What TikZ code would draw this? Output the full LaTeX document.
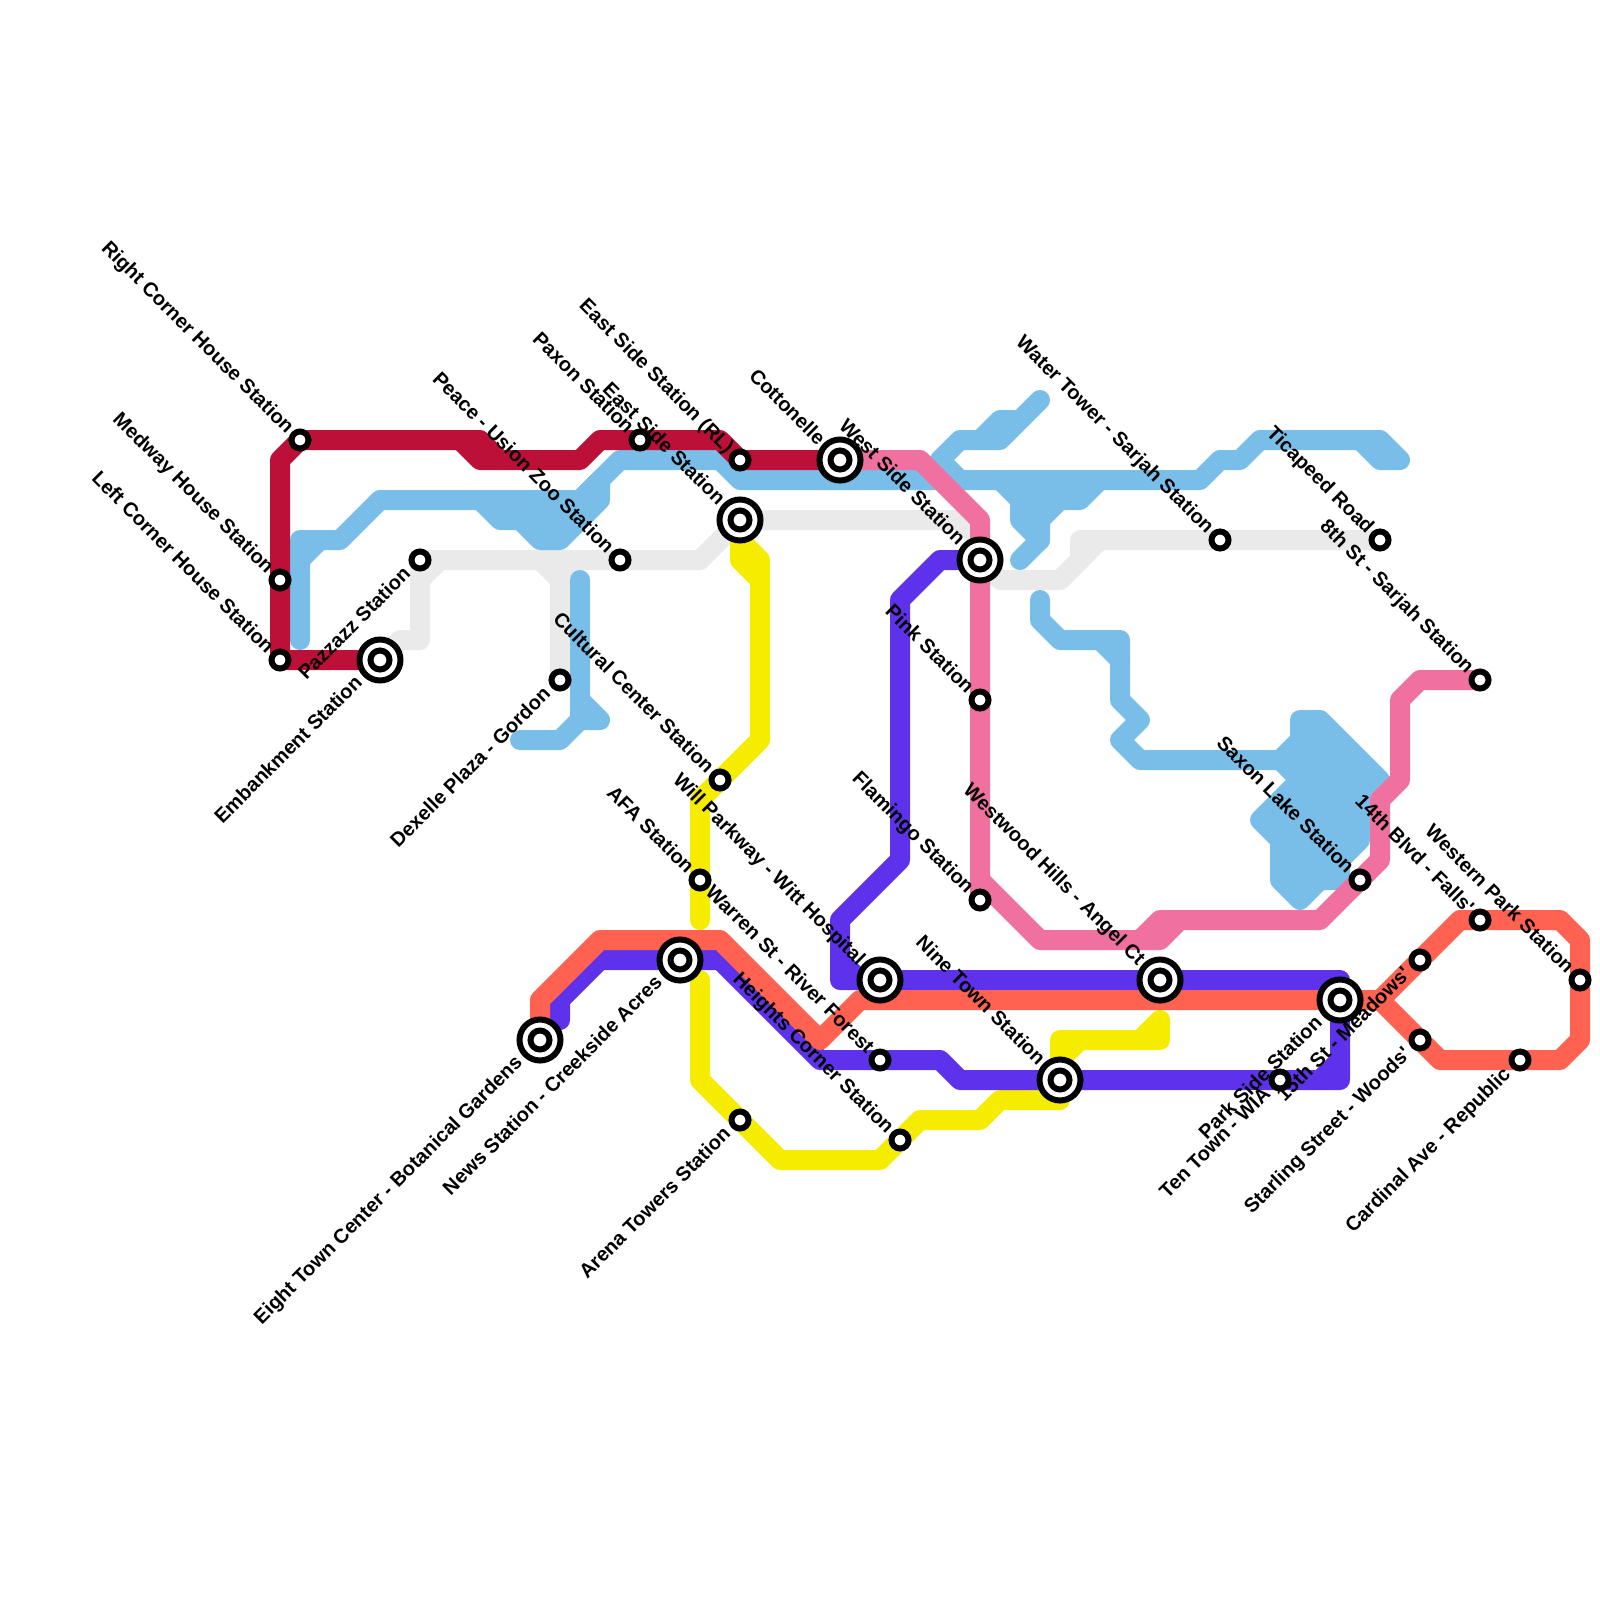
\documentclass[tikz,border=0pt]{standalone}
\usepackage{fontspec}
\newfontfamily\labfont[BoldFont={Liberation Sans Bold}]{Liberation Sans}
\definecolor{cred}{HTML}{BD1038}
\definecolor{cblue}{HTML}{79BDE9}
\definecolor{cgray}{HTML}{EAEAEA}
\definecolor{cpink}{HTML}{F0719F}
\definecolor{cpurple}{HTML}{5E31EA}
\definecolor{ccoral}{HTML}{FF6250}
\definecolor{cyellow}{HTML}{F6EC00}
\tikzset{
 ln/.style={line width=20pt,line cap=round,line join=round},
 stn/.style={circle,draw=black,fill=white,line width=6pt,minimum size=17pt,inner sep=0pt,outer sep=0pt},
 stnouter/.style={circle,draw=black,fill=white,line width=6pt,minimum size=41pt,inner sep=0pt,outer sep=0pt},
 stninner/.style={circle,draw=black,fill=white,line width=6pt,minimum size=19pt,inner sep=0pt,outer sep=0pt},
 lab/.style={inner sep=0pt,outer sep=0pt,text=black,font=\labfont\bfseries\fontsize{20}{24}\selectfont},
 ul/.style={lab,xshift=-14pt,yshift=5.4pt,rotate=-45,anchor=base east},
 dl/.style={lab,xshift=-8.4pt,yshift=-15.3pt,rotate=45,anchor=base east},
 ulb/.style={lab,xshift=-22.8pt,yshift=13.8pt,rotate=-45,anchor=base east},
 dlb/.style={lab,xshift=-16.8pt,yshift=-23.8pt,rotate=45,anchor=base east},
}
\newcommand{\smallstn}[1]{\node[stn] (#1-s) at (#1) {};}
\newcommand{\bigstn}[1]{\node[stnouter] (#1-o) at (#1) {};\node[stninner] (#1-i) at (#1) {};}
\begin{document}
\begin{tikzpicture}[x=1pt,y=-1pt]
\useasboundingbox (0,0) rectangle (1600,1600);
% station positions
\coordinate (lch) at (280,660);
\coordinate (mh) at (280,580);
\coordinate (rch) at (300,440);
\coordinate (emb) at (380,660);
\coordinate (paz) at (420,560);
\coordinate (pea) at (620,560);
\coordinate (pax) at (640,440);
\coordinate (esrl) at (740,460);
\coordinate (es) at (740,520);
\coordinate (cot) at (840,460);
\coordinate (wsd) at (980,560);
\coordinate (wat) at (1220,540);
\coordinate (tic) at (1380,540);
\coordinate (eig) at (1480,680);
\coordinate (dex) at (560,680);
\coordinate (cul) at (720,780);
\coordinate (afa) at (700,880);
\coordinate (pnk) at (980,700);
\coordinate (fla) at (980,900);
\coordinate (wil) at (880,980);
\coordinate (wes) at (1160,980);
\coordinate (sax) at (1360,880);
\coordinate (fal) at (1480,920);
\coordinate (mea) at (1420,960);
\coordinate (wpk) at (1580,980);
\coordinate (psd) at (1340,1000);
\coordinate (sta) at (1420,1040);
\coordinate (car) at (1520,1060);
\coordinate (ten) at (1280,1080);
\coordinate (nin) at (1060,1080);
\coordinate (war) at (880,1060);
\coordinate (hei) at (900,1140);
\coordinate (are) at (740,1120);
\coordinate (nws) at (680,960);
\coordinate (etc) at (540,1040);
% gray
\draw[ln,cgray] (emb) -- (400,640) -- (420,640) -- (paz) -- (pea) -- (700,560) -- (es) -- (960,520) -- (980,540);
\draw[ln,cgray] (420,580) -- (440,560);
\draw[ln,cgray] (540,560) -- (560,580) -- (580,560);
\draw[ln,cgray] (560,580) -- (dex);
\draw[ln,cgray] (wsd) -- (1000,580) -- (1060,580) -- (1100,540);
\draw[ln,cgray] (1060,580) -- (1080,560) -- (1080,540) -- (wat) -- (tic);
% blue
\draw[ln,cblue] (300,640) -- (300,540) -- (340,540) -- (380,500) -- (580,500) -- (620,460) -- (720,460) -- (740,480) -- (1200,480) -- (1220,460) -- (1240,460) -- (1260,440) -- (1380,440) -- (1400,460) -- (1380,460) -- (1360,440);
\draw[ln,cblue] (300,560) -- (320,540);
\draw[ln,cblue,fill=cblue] (480,500) -- (580,500) -- (600,480) -- (600,500) -- (560,540) -- (540,540) -- (520,520) -- (500,520) -- cycle;
\draw[ln,cblue] (580,580) -- (580,700) -- (600,720) -- (580,720) -- (560,740) -- (520,740);
\draw[ln,cblue] (580,700) -- (580,720);
\draw[ln,cblue] (940,460) -- (960,440) -- (1000,440) -- (1040,400) -- (1020,420) -- (1000,420) -- (980,440);
\draw[ln,cblue] (940,460) -- (960,480);
\draw[ln,cblue,fill=cblue] (1000,480) -- (1020,500) -- (1020,520) -- (1040,540) -- (1040,520) -- (1060,500) -- (1080,500) -- (1100,480) -- cycle;
\draw[ln,cblue] (1040,540) -- (1020,560);
\draw[ln,cblue] (1040,600) -- (1040,620) -- (1060,640) -- (1120,640) -- (1120,700) -- (1140,720) -- (1120,740) -- (1140,760) -- (1280,760);
\draw[ln,cblue] (1100,640) -- (1120,660);
\draw[ln,cblue,fill=cblue] (1280,760) -- (1300,740) -- (1300,720) -- (1320,720) -- (1380,780) -- (1360,800) -- (1360,840) -- (1340,860) -- (1340,880) -- (1320,880) -- (1300,900) -- (1280,880) -- (1280,840) -- (1260,820) -- (1300,780) -- cycle;
% yellow
\draw[ln,cyellow] (es) -- (740,560) -- (760,580) -- (760,740) -- (cul) -- (700,800) -- (afa) -- (700,920);
\draw[ln,cyellow] (740,540) -- (760,560) -- (760,580);
\draw[ln,cyellow] (700,980) -- (700,1080) -- (are) -- (780,1160) -- (880,1160) -- (hei) -- (920,1120) -- (980,1120) -- (1000,1100) -- (1060,1100) -- (1060,1040) -- (1140,1040) -- (1160,1020) -- (1160,1040) -- (1140,1040);
\draw[ln,cyellow] (1060,1060) -- (1080,1040);
% pink
\draw[ln,cpink] (cot) -- (920,460) -- (980,520) -- (wsd) -- (pnk) -- (fla) -- (980,880) -- (1040,940) -- (1160,940) -- (1180,920) -- (1320,920) -- (sax) -- (1380,860) -- (1380,800) -- (1400,780) -- (1400,700) -- (1420,680) -- (eig);
\draw[ln,cpink] (1140,940) -- (1160,920) -- (1180,920);
% red
\draw[ln,cred] (emb) -- (lch) -- (mh) -- (280,460) -- (rch) -- (480,440) -- (500,460) -- (580,460) -- (600,440) -- (pax) -- (720,440) -- (esrl) -- (cot);
\draw[ln,cred] (460,440) -- (480,460) -- (500,460);
% purple
\draw[ln,cpurple] (560,1020) -- (560,1000) -- (600,960) -- (nws) -- (720,960) -- (820,1060) -- (war) -- (940,1060) -- (960,1080) -- (nin) -- (ten) -- (1320,1080) -- (1340,1060);
\draw[ln,cpurple] (1320,1080) -- (1340,1080) -- (psd) -- (1340,980) -- (wes) -- (wil) -- (840,980) -- (840,920) -- (900,860) -- (900,600) -- (940,560) -- (wsd);
\draw[ln,cpurple] (840,960) -- (860,980);
% coral
\draw[ln,ccoral] (etc) -- (540,1000) -- (600,940) -- (720,940) -- (820,1040) -- (860,1000) -- (psd) -- (1380,1000) -- (mea) -- (1460,920) -- (fal) -- (1560,920) -- (1580,940) -- (wpk) -- (1580,1040) -- (1560,1060) -- (car) -- (1440,1060) -- (sta) -- (1380,1000);
% stations
\smallstn{lch}\smallstn{mh}\smallstn{rch}\smallstn{paz}\smallstn{pea}\smallstn{pax}\smallstn{esrl}\smallstn{dex}\smallstn{cul}\smallstn{afa}\smallstn{pnk}\smallstn{fla}\smallstn{wat}\smallstn{tic}\smallstn{eig}\smallstn{sax}\smallstn{fal}\smallstn{mea}\smallstn{wpk}\smallstn{sta}\smallstn{car}\smallstn{ten}\smallstn{war}\smallstn{hei}\smallstn{are}
\bigstn{emb}\bigstn{es}\bigstn{cot}\bigstn{wsd}\bigstn{wil}\bigstn{wes}\bigstn{psd}\bigstn{nws}\bigstn{etc}\bigstn{nin}
% labels
\node[ul] (t1) at (rch) {Right Corner House Station};
\node[ul] (t2) at (mh) {Medway House Station};
\node[ul] (t3) at (lch) {Left Corner House Station};
\node[dl] (t4) at (paz) {Pazzazz Station};
\node[dlb] (t5) at (emb) {Embankment Station};
\node[ul] (t6) at (pea) {Peace - Usion Zoo Station};
\node[ul] (t7) at (pax) {Paxon Station};
\node[ul] (t8) at (esrl) {East Side Station (RL)};
\node[ulb] (t9) at (es) {East Side Station};
\node[ulb] (t10) at (cot) {Cottonelle};
\node[ulb] (t11) at (wsd) {West Side Station};
\node[ul] (t12) at (wat) {Water Tower - Sarjah Station};
\node[ul] (t13) at (tic) {Ticapeed Road};
\node[ul] (t14) at (eig) {8th St - Sarjah Station};
\node[dl] (t15) at (dex) {Dexelle Plaza - Gordon};
\node[ul] (t16) at (cul) {Cultural Center Station};
\node[ul] (t17) at (afa) {AFA Station};
\node[ul] (t18) at (pnk) {Pink Station};
\node[ul] (t19) at (fla) {Flamingo Station};
\node[ulb] (t20) at (wil) {Will Parkway - Witt Hospital};
\node[ulb] (t21) at (wes) {Westwood Hills - Angel Ct};
\node[ul] (t22) at (sax) {Saxon Lake Station};
\node[ul] (t23) at (fal) {14th Blvd - Falls'};
\node[dl] (t24) at (mea) {15th St - Meadows'};
\node[ul] (t25) at (wpk) {Western Park Station};
\node[dlb] (t26) at (psd) {Park Side Station};
\node[dl] (t27) at (sta) {Starling Street - Woods'};
\node[dl] (t28) at (car) {Cardinal Ave - Republic};
\node[dl] (t29) at (ten) {Ten Town - WIA};
\node[ulb] (t30) at (nin) {Nine Town Station};
\node[ul] (t31) at (war) {Warren St - River Forest};
\node[ul] (t32) at (hei) {Heights Corner Station};
\node[dl] (t33) at (are) {Arena Towers Station};
\node[dlb] (t34) at (nws) {News Station - Creekside Acres};
\node[dlb] (t35) at (etc) {Eight Town Center - Botanical Gardens};
\end{tikzpicture}
\end{document}
